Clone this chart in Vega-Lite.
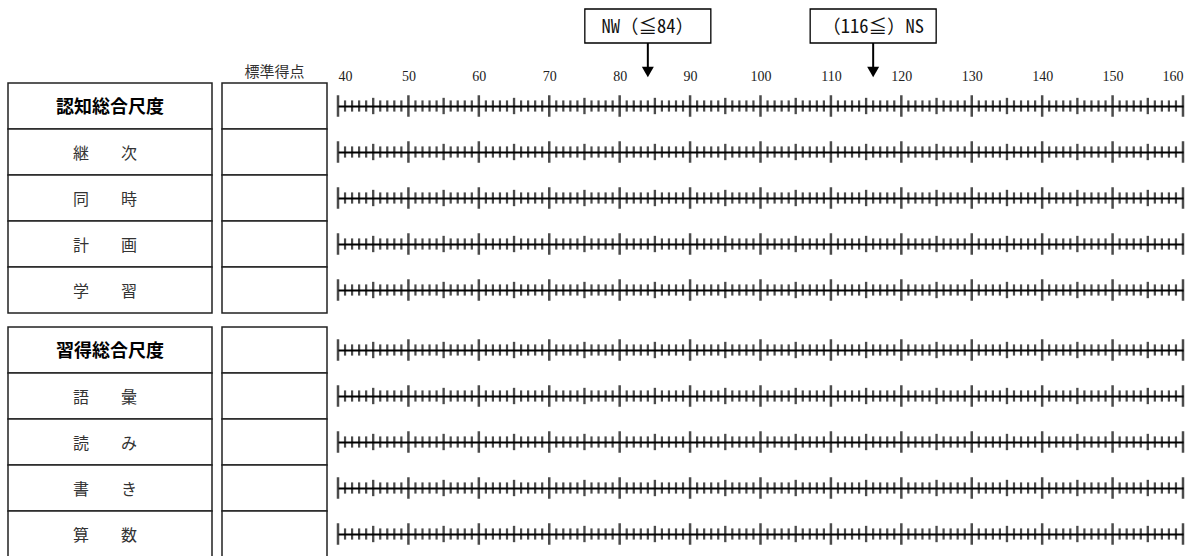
{
  "$schema": "https://vega.github.io/schema/vega-lite/v6.json",
  "padding": {"left": 7, "top": 0, "right": 0, "bottom": 0},
  "background": "white",
  "config": {"view": {"stroke": null}},
  "datasets": {
    "ticks": [
      {"v":40,"k":"major"},{"v":41,"k":"minor"},{"v":42,"k":"minor"},{"v":43,"k":"minor"},{"v":44,"k":"minor"},{"v":45,"k":"mid"},{"v":46,"k":"minor"},{"v":47,"k":"minor"},{"v":48,"k":"minor"},{"v":49,"k":"minor"},
      {"v":50,"k":"major"},{"v":51,"k":"minor"},{"v":52,"k":"minor"},{"v":53,"k":"minor"},{"v":54,"k":"minor"},{"v":55,"k":"mid"},{"v":56,"k":"minor"},{"v":57,"k":"minor"},{"v":58,"k":"minor"},{"v":59,"k":"minor"},
      {"v":60,"k":"major"},{"v":61,"k":"minor"},{"v":62,"k":"minor"},{"v":63,"k":"minor"},{"v":64,"k":"minor"},{"v":65,"k":"mid"},{"v":66,"k":"minor"},{"v":67,"k":"minor"},{"v":68,"k":"minor"},{"v":69,"k":"minor"},
      {"v":70,"k":"major"},{"v":71,"k":"minor"},{"v":72,"k":"minor"},{"v":73,"k":"minor"},{"v":74,"k":"minor"},{"v":75,"k":"mid"},{"v":76,"k":"minor"},{"v":77,"k":"minor"},{"v":78,"k":"minor"},{"v":79,"k":"minor"},
      {"v":80,"k":"major"},{"v":81,"k":"minor"},{"v":82,"k":"minor"},{"v":83,"k":"minor"},{"v":84,"k":"minor"},{"v":85,"k":"mid"},{"v":86,"k":"minor"},{"v":87,"k":"minor"},{"v":88,"k":"minor"},{"v":89,"k":"minor"},
      {"v":90,"k":"major"},{"v":91,"k":"minor"},{"v":92,"k":"minor"},{"v":93,"k":"minor"},{"v":94,"k":"minor"},{"v":95,"k":"mid"},{"v":96,"k":"minor"},{"v":97,"k":"minor"},{"v":98,"k":"minor"},{"v":99,"k":"minor"},
      {"v":100,"k":"major"},{"v":101,"k":"minor"},{"v":102,"k":"minor"},{"v":103,"k":"minor"},{"v":104,"k":"minor"},{"v":105,"k":"mid"},{"v":106,"k":"minor"},{"v":107,"k":"minor"},{"v":108,"k":"minor"},{"v":109,"k":"minor"},
      {"v":110,"k":"major"},{"v":111,"k":"minor"},{"v":112,"k":"minor"},{"v":113,"k":"minor"},{"v":114,"k":"minor"},{"v":115,"k":"mid"},{"v":116,"k":"minor"},{"v":117,"k":"minor"},{"v":118,"k":"minor"},{"v":119,"k":"minor"},
      {"v":120,"k":"major"},{"v":121,"k":"minor"},{"v":122,"k":"minor"},{"v":123,"k":"minor"},{"v":124,"k":"minor"},{"v":125,"k":"mid"},{"v":126,"k":"minor"},{"v":127,"k":"minor"},{"v":128,"k":"minor"},{"v":129,"k":"minor"},
      {"v":130,"k":"major"},{"v":131,"k":"minor"},{"v":132,"k":"minor"},{"v":133,"k":"minor"},{"v":134,"k":"minor"},{"v":135,"k":"mid"},{"v":136,"k":"minor"},{"v":137,"k":"minor"},{"v":138,"k":"minor"},{"v":139,"k":"minor"},
      {"v":140,"k":"major"},{"v":141,"k":"minor"},{"v":142,"k":"minor"},{"v":143,"k":"minor"},{"v":144,"k":"minor"},{"v":145,"k":"mid"},{"v":146,"k":"minor"},{"v":147,"k":"minor"},{"v":148,"k":"minor"},{"v":149,"k":"minor"},
      {"v":150,"k":"major"},{"v":151,"k":"minor"},{"v":152,"k":"minor"},{"v":153,"k":"minor"},{"v":154,"k":"minor"},{"v":155,"k":"mid"},{"v":156,"k":"minor"},{"v":157,"k":"minor"},{"v":158,"k":"minor"},{"v":159,"k":"minor"},
      {"v":160,"k":"major"}
    ],
    "group1": [
      {"name":"認知総合尺度","total":true},
      {"name":"継　　次","total":false},
      {"name":"同　　時","total":false},
      {"name":"計　　画","total":false},
      {"name":"学　　習","total":false}
    ],
    "group2": [
      {"name":"習得総合尺度","total":true},
      {"name":"語　　彙","total":false},
      {"name":"読　　み","total":false},
      {"name":"書　　き","total":false},
      {"name":"算　　数","total":false}
    ],
    "notes": [
      {"label":"NW（≦84）","v":84},
      {"label":"（116≦）NS","v":116}
    ],
    "header": [
      {"t":"標準得点"}
    ]
  },
  "spacing": 12,
  "vconcat": [
    {
      "spacing": 8,
      "hconcat": [
        {
          "spacing": 0,
          "vconcat": [
            {"width": 204, "height": 82, "data": {"values": []}, "mark": "point"},
            {
              "width": 204, "height": 230,
              "data": {"name": "group1"},
              "encoding": {"y": {"field": "name", "type": "nominal", "sort": null, "axis": null, "scale": {"paddingInner": 0, "paddingOuter": 0}}},
              "layer": [
                {"mark": {"type": "rect", "fill": "white", "stroke": "#222", "strokeWidth": 1.5}},
                {"transform": [{"filter": "datum.total"}], "mark": {"type": "text", "font": "Noto Sans CJK JP", "fontSize": 18, "fontWeight": "bold", "color": "black", "dy": 2}, "encoding": {"text": {"field": "name"}}},
                {"transform": [{"filter": "!datum.total"}], "mark": {"type": "text", "font": "Noto Sans CJK JP", "fontSize": 16, "color": "#333", "dx": -5, "dy": 2}, "encoding": {"text": {"field": "name"}}}
              ]
            }
          ]
        },
        {
          "spacing": 0,
          "vconcat": [
            {
              "width": 105, "height": 82,
              "data": {"name": "header"},
              "mark": {"type": "text", "font": "Noto Sans CJK JP", "fontSize": 15, "color": "#333", "baseline": "bottom", "dy": -2},
              "encoding": {
                "y": {"datum": 0, "type": "quantitative", "scale": {"domain": [0, 1], "nice": false}, "axis": null},
                "text": {"field": "t"}
              }
            },
            {
              "width": 105, "height": 230,
              "data": {"name": "group1"},
              "mark": {"type": "rect", "fill": "white", "stroke": "#222", "strokeWidth": 1.5},
              "encoding": {"y": {"field": "name", "type": "nominal", "sort": null, "axis": null, "scale": {"paddingInner": 0, "paddingOuter": 0}}}
            }
          ]
        },
        {
          "spacing": 0,
          "vconcat": [
            {
              "width": 845, "height": 82,
              "data": {"name": "notes"},
              "encoding": {"x": {"field": "v", "type": "quantitative", "scale": {"domain": [40, 160], "nice": false, "zero": false},
                                 "axis": {"orient": "bottom", "offset": -2, "domain": false, "ticks": false, "tickSize": 0, "grid": false, "title": null,
                                          "values": [40,50,60,70,80,90,100,110,120,130,140,150,160], "labelFlush": true, "labelOverlap": false,
                                          "labelPadding": 0, "labelBaseline": "alphabetic",
                                          "labelFont": "Liberation Serif", "labelFontSize": 14, "labelColor": "#222"}}},
              "layer": [
                {"mark": {"type": "rule", "color": "black", "strokeWidth": 2},
                 "encoding": {"y": {"datum": 0.476, "type": "quantitative", "scale": {"domain": [0, 1], "nice": false, "zero": false}, "axis": null}, "y2": {"datum": 0.171}}},
                {"mark": {"type": "point", "shape": "triangle-down", "size": 144, "filled": true, "color": "black", "opacity": 1},
                 "encoding": {"y": {"datum": 0.122, "type": "quantitative"}}},
                {"mark": {"type": "point", "shape": "M-1,-0.27H1V0.27H-1Z", "size": 15876, "filled": true, "fill": "white", "stroke": "black", "strokeWidth": 1.3, "opacity": 1},
                 "encoding": {"y": {"datum": 0.683, "type": "quantitative"}}},
                {"mark": {"type": "text", "font": "'Noto Sans Mono CJK JP', 'DejaVu Sans Mono', 'Noto Sans CJK JP'", "fontSize": 18.5, "fontWeight": "normal", "color": "#111", "dy": 1},
                 "encoding": {"y": {"datum": 0.683, "type": "quantitative"}, "text": {"field": "label"}}}
              ]
            },
            {"width": 845, "height": 46, "data": {"name": "ticks"},
             "mark": {"type": "tick", "thickness": 1, "color": "black", "stroke": "black"},
             "encoding": {
               "x": {"field": "v", "type": "quantitative", "scale": {"domain": [40, 160], "nice": false, "zero": false},
                     "axis": {"orient": "bottom", "offset": -23, "domain": true, "domainColor": "black", "domainWidth": 2, "ticks": false, "tickSize": 0, "labels": false, "grid": false, "title": null}},
               "size": {"field": "k", "type": "ordinal", "scale": {"domain": ["minor","mid","major"], "range": [10, 20, 28]}, "legend": null},
               "strokeWidth": {"field": "k", "type": "ordinal", "scale": {"domain": ["minor","mid","major"], "range": [1.2, 1.5, 2]}, "legend": null}
             }},
            {"width": 845, "height": 46, "data": {"name": "ticks"},
             "mark": {"type": "tick", "thickness": 1, "color": "black", "stroke": "black"},
             "encoding": {
               "x": {"field": "v", "type": "quantitative", "scale": {"domain": [40, 160], "nice": false, "zero": false},
                     "axis": {"orient": "bottom", "offset": -23, "domain": true, "domainColor": "black", "domainWidth": 2, "ticks": false, "tickSize": 0, "labels": false, "grid": false, "title": null}},
               "size": {"field": "k", "type": "ordinal", "scale": {"domain": ["minor","mid","major"], "range": [10, 20, 28]}, "legend": null},
               "strokeWidth": {"field": "k", "type": "ordinal", "scale": {"domain": ["minor","mid","major"], "range": [1.2, 1.5, 2]}, "legend": null}
             }},
            {"width": 845, "height": 46, "data": {"name": "ticks"},
             "mark": {"type": "tick", "thickness": 1, "color": "black", "stroke": "black"},
             "encoding": {
               "x": {"field": "v", "type": "quantitative", "scale": {"domain": [40, 160], "nice": false, "zero": false},
                     "axis": {"orient": "bottom", "offset": -23, "domain": true, "domainColor": "black", "domainWidth": 2, "ticks": false, "tickSize": 0, "labels": false, "grid": false, "title": null}},
               "size": {"field": "k", "type": "ordinal", "scale": {"domain": ["minor","mid","major"], "range": [10, 20, 28]}, "legend": null},
               "strokeWidth": {"field": "k", "type": "ordinal", "scale": {"domain": ["minor","mid","major"], "range": [1.2, 1.5, 2]}, "legend": null}
             }},
            {"width": 845, "height": 46, "data": {"name": "ticks"},
             "mark": {"type": "tick", "thickness": 1, "color": "black", "stroke": "black"},
             "encoding": {
               "x": {"field": "v", "type": "quantitative", "scale": {"domain": [40, 160], "nice": false, "zero": false},
                     "axis": {"orient": "bottom", "offset": -23, "domain": true, "domainColor": "black", "domainWidth": 2, "ticks": false, "tickSize": 0, "labels": false, "grid": false, "title": null}},
               "size": {"field": "k", "type": "ordinal", "scale": {"domain": ["minor","mid","major"], "range": [10, 20, 28]}, "legend": null},
               "strokeWidth": {"field": "k", "type": "ordinal", "scale": {"domain": ["minor","mid","major"], "range": [1.2, 1.5, 2]}, "legend": null}
             }},
            {"width": 845, "height": 46, "data": {"name": "ticks"},
             "mark": {"type": "tick", "thickness": 1, "color": "black", "stroke": "black"},
             "encoding": {
               "x": {"field": "v", "type": "quantitative", "scale": {"domain": [40, 160], "nice": false, "zero": false},
                     "axis": {"orient": "bottom", "offset": -23, "domain": true, "domainColor": "black", "domainWidth": 2, "ticks": false, "tickSize": 0, "labels": false, "grid": false, "title": null}},
               "size": {"field": "k", "type": "ordinal", "scale": {"domain": ["minor","mid","major"], "range": [10, 20, 28]}, "legend": null},
               "strokeWidth": {"field": "k", "type": "ordinal", "scale": {"domain": ["minor","mid","major"], "range": [1.2, 1.5, 2]}, "legend": null}
             }}
          ]
        }
      ]
    },
    {
      "spacing": 8,
      "hconcat": [
        {
          "width": 204, "height": 230,
          "data": {"name": "group2"},
          "encoding": {"y": {"field": "name", "type": "nominal", "sort": null, "axis": null, "scale": {"paddingInner": 0, "paddingOuter": 0}}},
          "layer": [
            {"mark": {"type": "rect", "fill": "white", "stroke": "#222", "strokeWidth": 1.5}},
            {"transform": [{"filter": "datum.total"}], "mark": {"type": "text", "font": "Noto Sans CJK JP", "fontSize": 18, "fontWeight": "bold", "color": "black", "dy": 2}, "encoding": {"text": {"field": "name"}}},
            {"transform": [{"filter": "!datum.total"}], "mark": {"type": "text", "font": "Noto Sans CJK JP", "fontSize": 16, "color": "#333", "dx": -5, "dy": 2}, "encoding": {"text": {"field": "name"}}}
          ]
        },
        {
          "width": 105, "height": 230,
          "data": {"name": "group2"},
          "mark": {"type": "rect", "fill": "white", "stroke": "#222", "strokeWidth": 1.5},
          "encoding": {"y": {"field": "name", "type": "nominal", "sort": null, "axis": null, "scale": {"paddingInner": 0, "paddingOuter": 0}}}
        },
        {
          "spacing": 0,
          "vconcat": [
            {"width": 845, "height": 46, "data": {"name": "ticks"},
             "mark": {"type": "tick", "thickness": 1, "color": "black", "stroke": "black"},
             "encoding": {
               "x": {"field": "v", "type": "quantitative", "scale": {"domain": [40, 160], "nice": false, "zero": false},
                     "axis": {"orient": "bottom", "offset": -23, "domain": true, "domainColor": "black", "domainWidth": 2, "ticks": false, "tickSize": 0, "labels": false, "grid": false, "title": null}},
               "size": {"field": "k", "type": "ordinal", "scale": {"domain": ["minor","mid","major"], "range": [10, 20, 28]}, "legend": null},
               "strokeWidth": {"field": "k", "type": "ordinal", "scale": {"domain": ["minor","mid","major"], "range": [1.2, 1.5, 2]}, "legend": null}
             }},
            {"width": 845, "height": 46, "data": {"name": "ticks"},
             "mark": {"type": "tick", "thickness": 1, "color": "black", "stroke": "black"},
             "encoding": {
               "x": {"field": "v", "type": "quantitative", "scale": {"domain": [40, 160], "nice": false, "zero": false},
                     "axis": {"orient": "bottom", "offset": -23, "domain": true, "domainColor": "black", "domainWidth": 2, "ticks": false, "tickSize": 0, "labels": false, "grid": false, "title": null}},
               "size": {"field": "k", "type": "ordinal", "scale": {"domain": ["minor","mid","major"], "range": [10, 20, 28]}, "legend": null},
               "strokeWidth": {"field": "k", "type": "ordinal", "scale": {"domain": ["minor","mid","major"], "range": [1.2, 1.5, 2]}, "legend": null}
             }},
            {"width": 845, "height": 46, "data": {"name": "ticks"},
             "mark": {"type": "tick", "thickness": 1, "color": "black", "stroke": "black"},
             "encoding": {
               "x": {"field": "v", "type": "quantitative", "scale": {"domain": [40, 160], "nice": false, "zero": false},
                     "axis": {"orient": "bottom", "offset": -23, "domain": true, "domainColor": "black", "domainWidth": 2, "ticks": false, "tickSize": 0, "labels": false, "grid": false, "title": null}},
               "size": {"field": "k", "type": "ordinal", "scale": {"domain": ["minor","mid","major"], "range": [10, 20, 28]}, "legend": null},
               "strokeWidth": {"field": "k", "type": "ordinal", "scale": {"domain": ["minor","mid","major"], "range": [1.2, 1.5, 2]}, "legend": null}
             }},
            {"width": 845, "height": 46, "data": {"name": "ticks"},
             "mark": {"type": "tick", "thickness": 1, "color": "black", "stroke": "black"},
             "encoding": {
               "x": {"field": "v", "type": "quantitative", "scale": {"domain": [40, 160], "nice": false, "zero": false},
                     "axis": {"orient": "bottom", "offset": -23, "domain": true, "domainColor": "black", "domainWidth": 2, "ticks": false, "tickSize": 0, "labels": false, "grid": false, "title": null}},
               "size": {"field": "k", "type": "ordinal", "scale": {"domain": ["minor","mid","major"], "range": [10, 20, 28]}, "legend": null},
               "strokeWidth": {"field": "k", "type": "ordinal", "scale": {"domain": ["minor","mid","major"], "range": [1.2, 1.5, 2]}, "legend": null}
             }},
            {"width": 845, "height": 46, "data": {"name": "ticks"},
             "mark": {"type": "tick", "thickness": 1, "color": "black", "stroke": "black"},
             "encoding": {
               "x": {"field": "v", "type": "quantitative", "scale": {"domain": [40, 160], "nice": false, "zero": false},
                     "axis": {"orient": "bottom", "offset": -23, "domain": true, "domainColor": "black", "domainWidth": 2, "ticks": false, "tickSize": 0, "labels": false, "grid": false, "title": null}},
               "size": {"field": "k", "type": "ordinal", "scale": {"domain": ["minor","mid","major"], "range": [10, 20, 28]}, "legend": null},
               "strokeWidth": {"field": "k", "type": "ordinal", "scale": {"domain": ["minor","mid","major"], "range": [1.2, 1.5, 2]}, "legend": null}
             }}
          ]
        }
      ]
    }
  ]
}
